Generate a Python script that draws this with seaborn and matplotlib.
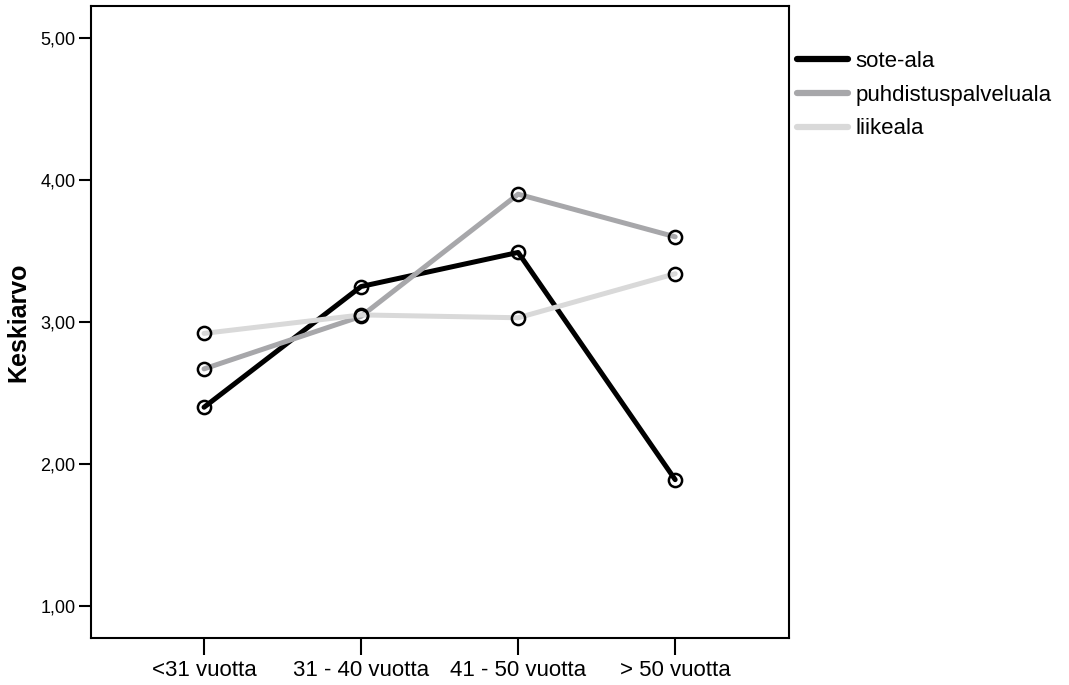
import pandas as pd
import numpy as np
import matplotlib.pyplot as plt
import seaborn as sns

# age groups and mean scores per sector
age_groups = ['<31 vuotta', '31 - 40 vuotta', '41 - 50 vuotta', '> 50 vuotta']
sectors = ['sote-ala', 'puhdistuspalveluala', 'liikeala']
sote = [2.40, 3.25, 3.49, 1.89]
puhdistus = [2.67, 3.04, 3.90, 3.60]
liike = [2.92, 3.05, 3.03, 3.34]
y_ticks = [1, 2, 3, 4, 5]

rows = []
for name, vals in zip(sectors, [sote, puhdistus, liike]):
    for i, v in enumerate(vals):
        rows.append({'pos': i, 'ika': age_groups[i], 'ala': name, 'Keskiarvo': v})
df = pd.DataFrame(rows)

sns.set_style('white')
plt.rcParams['font.family'] = ['Liberation Sans', 'DejaVu Sans']
plt.rcParams['text.color'] = 'black'
plt.rcParams['axes.labelcolor'] = 'black'
plt.rcParams['xtick.color'] = 'black'
plt.rcParams['ytick.color'] = 'black'

fig = plt.figure(figsize=(10.69, 6.85), dpi=100)
ax = fig.add_axes([0.0851, 0.0686, 0.653, 0.9226])

palette = {'sote-ala': '#000000', 'puhdistuspalveluala': '#a7a7aa', 'liikeala': '#d9d9d9'}
sns.lineplot(data=df, x='pos', y='Keskiarvo', hue='ala', hue_order=sectors,
             palette=palette, linewidth=3.6, sort=False, ax=ax, legend=False)
# open circle markers on top
for name, vals in zip(sectors, [sote, puhdistus, liike]):
    ax.plot(range(len(vals)), vals, linestyle='none', marker='o', markersize=9.5,
            markerfacecolor='none', markeredgecolor='black', markeredgewidth=1.8, zorder=5)

ax.set_xlim(-0.72, 3.725)
ax.set_ylim(0.775, 5.225)
ax.set_xticks(range(len(age_groups)))
ax.set_xticklabels(age_groups, fontsize=16)
ax.set_yticks(y_ticks)
ax.set_yticklabels([f'{t:.2f}'.replace('.', ',') for t in y_ticks], fontsize=13)
ax.set_xlabel('')
ax.set_ylabel('Keskiarvo', fontsize=18, fontweight='bold')
ax.yaxis.set_label_coords(-0.0875, 0.5)
ax.tick_params(axis='x', direction='out', length=12.5, width=1.5, bottom=True, pad=3)
ax.tick_params(axis='y', direction='out', length=9, width=1.5, left=True, pad=2)
for s in ax.spines.values():
    s.set_visible(True)
    s.set_color('black')
    s.set_linewidth(1.5)

handles = [plt.Line2D([], [], color=palette[s], linewidth=4.5) for s in sectors]
fig.legend(handles, sectors, loc='upper left', bbox_to_anchor=(0.7456, 0.926),
           frameon=False, fontsize=16, handlelength=2.3, handletextpad=0.32,
           labelspacing=0.58, borderaxespad=0, borderpad=0)

fig.savefig('out.png', dpi=100)
